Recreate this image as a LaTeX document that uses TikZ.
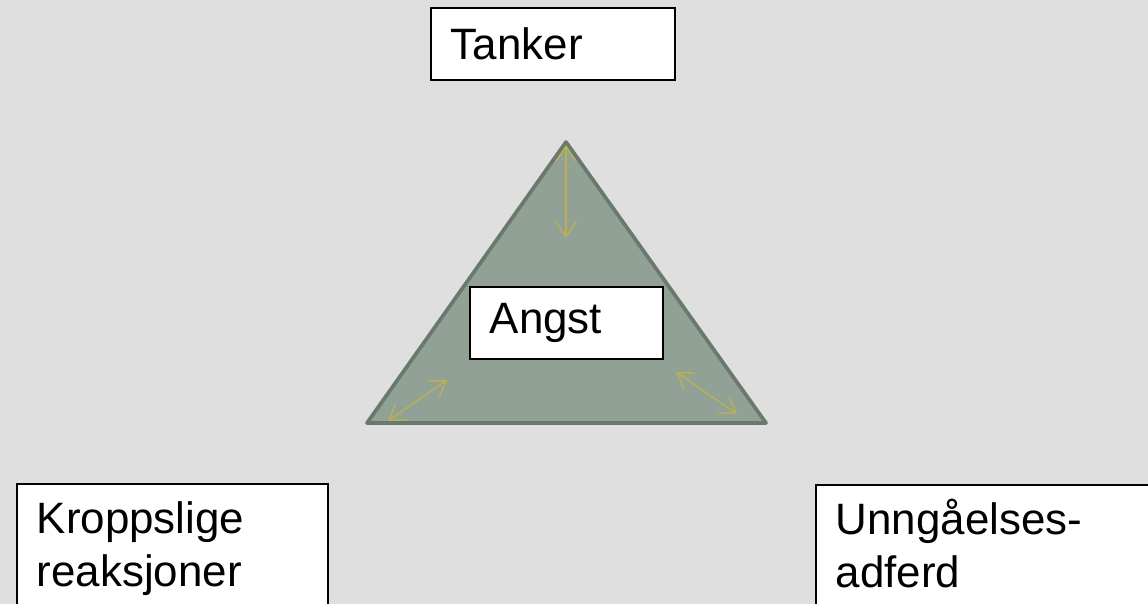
\documentclass[tikz,border=0pt]{standalone}
\usepackage{fontspec}
\setmainfont{Liberation Sans}
\usetikzlibrary{arrows.meta}

\definecolor{bakgrunn}{RGB}{223,223,223}
\definecolor{trekant}{RGB}{145,161,150}
\definecolor{kant}{RGB}{106,121,110}
\definecolor{pil}{RGB}{186,176,84}

\begin{document}
\begin{tikzpicture}[x=0.02cm, y=-0.02cm,
  boks/.style={draw=black, line width=0.9pt, fill=white, anchor=north west,
    align=left, font=\fontsize{25}{30}\selectfont, inner xsep=0.4cm},
  dobbelpil/.style={draw=pil, line width=0.8pt,
    {Straight Barb[length=0.3cm,width=0.4cm]}-{Straight Barb[length=0.3cm,width=0.4cm]}}]

\fill[bakgrunn] (0,0) rectangle (1148,604);
\clip (0,0) rectangle (1148,604);

\coordinate (T) at (566,142);
\coordinate (L) at (367,423);
\coordinate (R) at (766,423);

\filldraw[fill=trekant, draw=kant, line width=2.1pt, line join=round] (T) -- (L) -- (R) -- cycle;

\coordinate (P1) at (566,145);
\coordinate (P2) at (566,238);
\coordinate (P3) at (388,421);
\coordinate (P4) at (447,380);
\coordinate (P5) at (676,372);
\coordinate (P6) at (737,414);

\draw[dobbelpil] (P1) -- (P2);
\draw[dobbelpil] (P3) -- (P4);
\draw[dobbelpil] (P5) -- (P6);

\node[boks, text width=4.08cm, minimum height=1.44cm] (tanker) at (430,7) {Tanker};
\node[boks, text width=3.06cm, minimum height=1.44cm] (angst) at (469,286) {Angst};
\node[boks, text width=5.42cm, text height=18pt, inner ysep=10.45pt] (kropp) at (16,483) {Kroppslige\\reaksjoner};
\node[boks, text width=7cm, text height=18pt, inner ysep=10.45pt] (unngaa) at (815,484) {Unngåelses-\\adferd};

\end{tikzpicture}
\end{document}
